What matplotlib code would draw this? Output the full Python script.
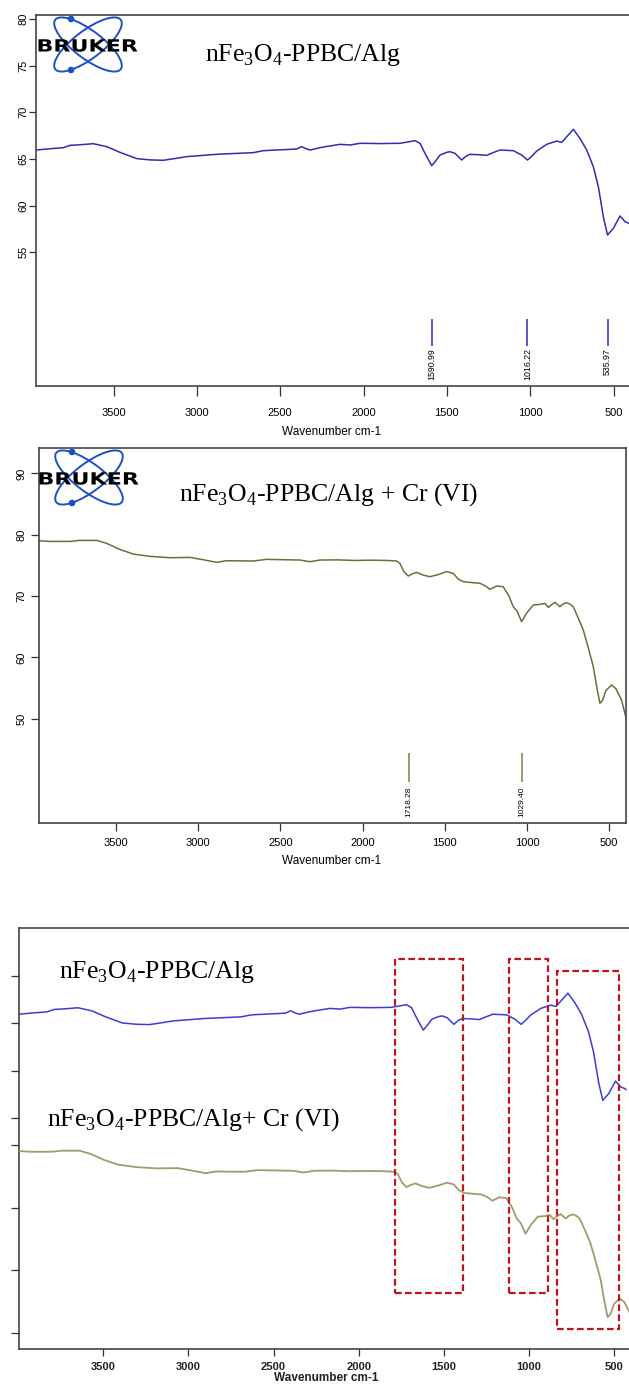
import matplotlib.pyplot as plt
from matplotlib.patches import Ellipse, Circle, Rectangle, PathPatch
from matplotlib.transforms import blended_transform_factory, Affine2D
from matplotlib.textpath import TextPath
from matplotlib.font_manager import FontProperties

# ---- data (wavenumber cm-1, transmittance) ----
alg_wn = [3965, 3880, 3801, 3761, 3680, 3621, 3540, 3461, 3361, 3280, 3201, 3130,
          3061, 2881, 2661, 2601, 2401, 2371, 2345, 2321, 2261, 2231, 2141, 2080,
          2021, 1900, 1781, 1691, 1661, 1631, 1591, 1571, 1541, 1501, 1481, 1451,
          1411, 1385, 1361, 1300, 1261, 1220, 1181, 1101, 1051, 1016, 990, 961,
          901, 841, 811, 780, 741, 701, 661, 621, 591, 561, 536, 501, 461, 431, 407, 400]
alg_t = [65.96, 66.10, 66.21, 66.46, 66.55, 66.64, 66.32, 65.71, 65.04, 64.90, 64.86, 65.05,
         65.25, 65.50, 65.68, 65.89, 66.07, 66.32, 66.10, 65.96, 66.21, 66.31, 66.57, 66.50,
         66.68, 66.65, 66.68, 66.96, 66.68, 65.60, 64.28, 64.70, 65.42, 65.71, 65.78, 65.60,
         64.89, 65.30, 65.50, 65.45, 65.39, 65.70, 65.96, 65.89, 65.42, 64.89, 65.30, 65.85,
         66.57, 66.92, 66.78, 67.40, 68.18, 67.20, 65.96, 64.17, 62.03, 58.80, 56.85, 57.57,
         58.89, 58.28, 58.10, 58.00]

cr_wn = [3968, 3902, 3780, 3719, 3618, 3557, 3476, 3395, 3293, 3172, 3050, 2969,
         2888, 2828, 2665, 2584, 2381, 2320, 2260, 2150, 2050, 1950, 1850, 1793,
         1773, 1749, 1722, 1700, 1671, 1630, 1591, 1540, 1489, 1449, 1420, 1388,
         1286, 1250, 1226, 1185, 1145, 1110, 1084, 1060, 1033, 1000, 962, 921,
         891, 871, 850, 830, 800, 780, 759, 740, 719, 690, 658, 630, 597, 575,
         557, 540, 520, 486, 460, 425, 400]
cr_t = [79.02, 78.91, 78.91, 79.08, 79.08, 78.59, 77.60, 76.85, 76.47, 76.25, 76.30, 75.92,
        75.49, 75.76, 75.71, 75.98, 75.87, 75.60, 75.87, 75.90, 75.80, 75.85, 75.80, 75.71,
        75.33, 73.97, 73.26, 73.60, 73.86, 73.40, 73.15, 73.50, 73.97, 73.70, 72.80, 72.33,
        72.07, 71.60, 71.09, 71.63, 71.52, 70.00, 68.26, 67.50, 65.82, 67.30, 68.53, 68.64,
        68.80, 68.15, 68.60, 68.97, 68.26, 68.70, 68.91, 68.70, 68.26, 66.50, 64.45, 61.80,
        58.47, 55.00, 52.50, 53.00, 54.60, 55.48, 54.90, 53.03, 50.31]

alg_peaks = [1590.99, 1016.22, 535.97]
alg_peak_labels = ['1590.99', '1016.22', '535.97']
cr_peaks = [1718.28, 1029.40]
cr_peak_labels = ['1718.28', '1029.40']

# highlighted regions in the overlay (cm-1)
box_left = [1787, 1118, 838]
box_right = [1390, 890, 470]
box_bottom = [0.133, 0.133, 0.048]
box_top = [0.927, 0.927, 0.899]

x_ticks = [3500, 3000, 2500, 2000, 1500, 1000, 500]

W, H = 629, 1385
plt.rcParams['font.family'] = 'Liberation Sans'
plt.rcParams['mathtext.fontset'] = 'custom'
plt.rcParams['mathtext.rm'] = 'Liberation Serif'

fig = plt.figure(figsize=(W / 100, H / 100), dpi=100)


def rect(x0, y0, x1, y1):
    return [x0 / W, 1 - y1 / H, (x1 - x0) / W, (y1 - y0) / H]


def ftext(x, y, s, **kw):
    fig.text(x / W, 1 - y / H, s, **kw)


def style(ax, xlen, ylen, xpad, ypad):
    for s in ['left', 'bottom', 'top', 'right']:
        ax.spines[s].set_color('#444444')
        ax.spines[s].set_linewidth(1.2)
    ax.tick_params(axis='x', direction='out', length=xlen, width=0.9, pad=xpad,
                   labelsize=8, color='#333333')
    ax.tick_params(axis='y', direction='out', length=ylen, width=0.9, pad=ypad,
                   labelsize=8, color='#333333')
    ax.set_xticks(x_ticks)


def logo(cx, cy):
    lax = fig.add_axes(rect(cx - 55, cy - 32, cx + 55, cy + 32))
    lax.set_xlim(-55, 55)
    lax.set_ylim(32, -32)
    lax.axis('off')
    for ang in [37, -37]:
        lax.add_patch(Ellipse((0, 0), 82, 28, angle=ang, fill=False,
                              ec='#1f4fc4', lw=1.4))
    lax.add_patch(Circle((-17, -25.5), 2.6, color='#1f4fc4'))
    lax.add_patch(Circle((-17, 25.5), 2.6, color='#1f4fc4'))
    # wide heavy lettering, stretched to the logo width
    tp = TextPath((0, 0), 'BRUKER', size=10,
                  prop=FontProperties(family='DejaVu Sans', weight='bold'))
    ext = tp.get_extents()
    sx = 99 / ext.width
    sy = 12.5 / ext.height
    tr = Affine2D().translate(-(ext.x0 + ext.width / 2), -(ext.y0 + ext.height / 2))
    tr = tr.scale(sx, -sy).translate(0, 1)
    lax.add_patch(PathPatch(tr.transform_path(tp), fc='black', ec='none', zorder=5))


serif = 'Liberation Serif'
name_alg = r'nFe$_{3}$O$_{4}$-PPBC/Alg'
title_size = 18.5

# ---- panel 1 ----
ax1 = fig.add_axes(rect(36, 15, 630.2, 386))
ax1.plot(alg_wn, alg_t, color='#2f2fae', lw=1.1)
ax1.vlines(alg_peaks, 45.0, 47.9, color='#3b3bc0', lw=1.2)
for x, s in zip(alg_peaks, alg_peak_labels):
    ax1.text(x, 44.7, s, rotation=90, ha='center', va='top', fontsize=6.3)
ax1.set_xlim(3965, 400)
ax1.set_ylim(40.67, 80.43)
ax1.set_yticks([55, 60, 65, 70, 75, 80])
style(ax1, 7, 5, 9, 0.5)
ax1.spines['right'].set_visible(False)
for lab in ax1.get_yticklabels():
    lab.set_rotation(90)
    lab.set_va('center')
ftext(332, 432, 'Wavenumber cm-1', ha='center', va='center', fontsize=8.5)
ftext(205, 61, name_alg, family=serif, fontsize=title_size, va='baseline')
logo(88, 44.5)

# ---- panel 2 ----
ax2 = fig.add_axes(rect(39, 448.3, 625.7, 823.3))
ax2.plot(cr_wn, cr_t, color='#6e6e3a', lw=1.1)
ax2.vlines(cr_peaks, 39.7, 44.34, color='#8a8a5a', lw=1.2)
for x, s in zip(cr_peaks, cr_peak_labels):
    ax2.text(x, 38.9, s, rotation=90, ha='center', va='top', fontsize=6.0)
ax2.set_xlim(3968, 400)
ax2.set_ylim(32.92, 94.1)
ax2.set_yticks([50, 60, 70, 80, 90])
style(ax2, 5.5, 5.5, 5, 3.5)
for lab in ax2.get_yticklabels():
    lab.set_rotation(90)
    lab.set_va('center')
ftext(332, 861, 'Wavenumber cm-1', ha='center', va='center', fontsize=8.5)
ftext(179, 501, name_alg + ' + Cr (VI)', family=serif, fontsize=title_size, va='baseline')
logo(89, 477.5)

# ---- panel 3: overlay of the two spectra ----
r3 = rect(19.3, 928.3, 631.2, 1349.3)
ax3 = fig.add_axes(r3)
ax3.set_xlim(3993, 400)
ax3.set_ylim(0, 1)
ax3.set_yticks([])
style(ax3, 5, 6, 4, 4)
ax3.spines['right'].set_visible(False)
for lab in ax3.get_xticklabels():
    lab.set_fontsize(8)
    lab.set_fontweight('bold')
    lab.set_color('#222222')

# upper trace (its own scale, pasted slightly shifted in the original)
ax3a = fig.add_axes(r3)
ax3a.patch.set_visible(False)
ax3a.plot(alg_wn, alg_t, color='#3c3cd2', lw=1.1)
ax3a.set_xlim(3965, 369)
ax3a.set_ylim(30.54, 75.04)
ax3a.set_yticks([55, 60, 65, 70])
ax3a.set_yticklabels([])
ax3a.tick_params(axis='y', direction='out', length=6, width=0.9, color='#333333')
ax3a.xaxis.set_visible(False)
for s in ax3a.spines.values():
    s.set_visible(False)

# lower trace
ax3b = fig.add_axes(r3)
ax3b.patch.set_visible(False)
ax3b.plot(cr_wn, cr_t, color='#a19c6c', lw=1.3)
ax3b.set_xlim(3968, 420)
ax3b.set_ylim(47.36, 114.6)
ax3b.set_yticks([50, 60, 70, 80])
ax3b.set_yticklabels([])
ax3b.tick_params(axis='y', direction='out', length=6, width=0.9, color='#333333')
ax3b.xaxis.set_visible(False)
for s in ax3b.spines.values():
    s.set_visible(False)

tr = blended_transform_factory(ax3.transData, ax3.transAxes)
for l, r, b, t in zip(box_left, box_right, box_bottom, box_top):
    ax3b.add_patch(Rectangle((l, b), r - l, t - b, transform=tr, fill=False,
                             ec='#c0141c', lw=1.6, ls=(0, (3, 1.5)), zorder=3))

ftext(326, 1378, 'Wavenumber cm-1', ha='center', va='center', fontsize=8.5,
      fontweight='bold', color='#222222')
ftext(59.3, 978, name_alg, family=serif, fontsize=title_size, va='baseline')
ftext(46.7, 1126, name_alg + '+ Cr (VI)', family=serif, fontsize=title_size, va='baseline')

fig.savefig('out.png', dpi=100)
